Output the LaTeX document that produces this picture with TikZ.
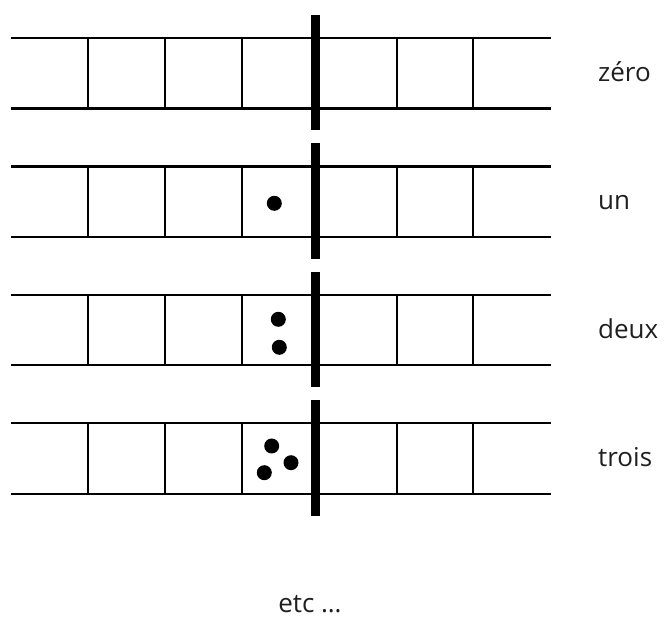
\documentclass[tikz,border=0pt]{standalone}
\usepackage{fontspec}
\setmainfont{Open Sans}
\begin{document}
\begin{tikzpicture}[x=1pt,y=-1pt,
  rail/.style={line width=2.3pt, black},
  bar/.style={line width=9.5pt, black},
  pip/.style={circle, fill=black, minimum size=15pt, inner sep=0pt},
  lab/.style={anchor=base west, font=\fontsize{26}{30}\selectfont, text=black!88, inner sep=0pt}]
\useasboundingbox (0,0) rectangle (667,617);
\foreach \i/\lbl in {0/zéro,1/un,2/deux,3/trois}{
  \pgfmathsetmacro\ya{38+128.4*\i}
  \pgfmathsetmacro\yb{\ya+70.5}
  \draw[rail] (11,\ya) -- (551,\ya);
  \draw[rail] (11,\yb) -- (551,\yb);
  \foreach \x in {88,165,242,397,473} \draw[rail] (\x,\ya) -- (\x,\yb);
  \draw[bar] (315.7,\ya-23) -- (315.7,\yb+22);
  \node[lab] (label\i) at (598,\ya+43.5) {\lbl};
}
\node[pip] (p1) at (274.3,203.3) {};
\node[pip] (p2a) at (278.3,319.3) {};
\node[pip] (p2b) at (279.3,347.3) {};
\node[pip] (p3a) at (271.7,446) {};
\node[pip] (p3b) at (291,462.7) {};
\node[pip] (p3c) at (264.3,472.7) {};
\node[lab, anchor=base] (etc) at (310,612) {etc …};
\end{tikzpicture}
\end{document}
